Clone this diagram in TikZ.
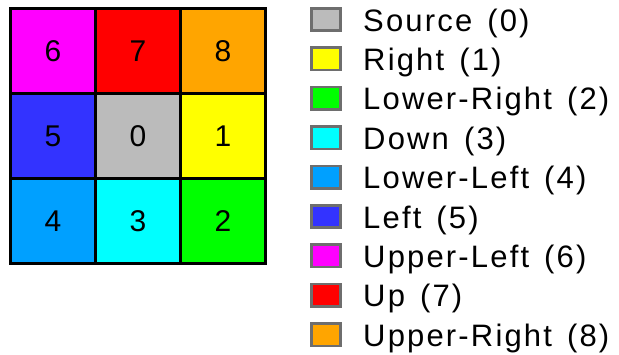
\documentclass[tikz,border=0pt]{standalone}
\usepackage{fontspec}
\setmainfont{Liberation Sans}
\newfontfamily\legfont[LetterSpace=7,WordSpace=1.4]{Liberation Sans}
\definecolor{k0}{RGB}{187,187,187}
\definecolor{k1}{RGB}{255,255,0}
\definecolor{k2}{RGB}{0,255,0}
\definecolor{k3}{RGB}{0,255,255}
\definecolor{k4}{RGB}{0,160,255}
\definecolor{k5}{RGB}{51,51,255}
\definecolor{k6}{RGB}{255,0,255}
\definecolor{k7}{RGB}{255,0,0}
\definecolor{k8}{RGB}{255,165,0}
\definecolor{legborder}{RGB}{110,110,110}
\tikzset{
  cell/.style={draw=black, line width=3.3bp, minimum size=85bp, inner sep=0pt,
    font=\fontsize{30bp}{30bp}\selectfont},
  legbox/.style={draw=legborder, line width=2.7bp, minimum width=29.4bp, minimum height=22.4bp, inner sep=0pt},
  legtext/.style={anchor=base west, inner sep=0pt, font=\legfont\fontsize{31bp}{31bp}\selectfont}
}
\begin{document}
\begin{tikzpicture}[x=1bp,y=-1bp]
\useasboundingbox (0,0) rectangle (619,354);
% grid
\node[cell, fill=k6] (c6) at (53,51) {6};
\node[cell, fill=k7] (c7) at (138,51) {7};
\node[cell, fill=k8] (c8) at (223,51) {8};
\node[cell, fill=k5] (c5) at (53,136) {5};
\node[cell, fill=k0] (c0) at (138,136) {0};
\node[cell, fill=k1] (c1) at (223,136) {1};
\node[cell, fill=k4] (c4) at (53,221) {4};
\node[cell, fill=k3] (c3) at (138,221) {3};
\node[cell, fill=k2] (c2) at (223,221) {2};
% legend
\foreach \i/\c/\t in {0/k0/Source (0), 1/k1/Right (1), 2/k2/Lower-Right (2),
  3/k3/Down (3), 4/k4/Lower-Left (4), 5/k5/Left (5), 6/k6/Upper-Left (6),
  7/k7/Up (7), 8/k8/Upper-Right (8)} {
  \node[legbox, fill=\c] (l\i) at (326, 19.5+39.4*\i) {};
  \node[legtext] (t\i) at (363, 31+39.4*\i) {\t};
}
\end{tikzpicture}
\end{document}
